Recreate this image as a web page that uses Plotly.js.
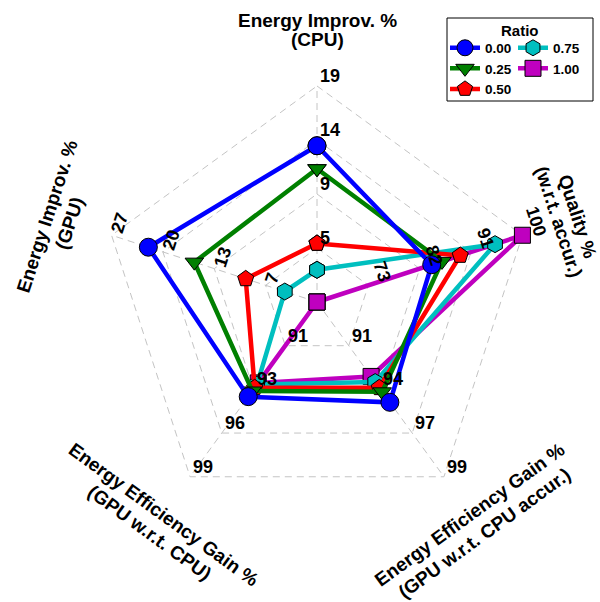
<!DOCTYPE html>
<html><head><meta charset="utf-8">
<script src="https://cdn.plot.ly/plotly-3.0.1.min.js"></script>
<style>html,body{margin:0;padding:0;background:#fff}#chart{width:600px;height:602px}</style>
</head><body><div id="chart"></div>
<script>
// ---- data ----
const axisTitlesLine1 = ['Energy Improv. %', 'Quality %', 'Energy Efficiency Gain %', 'Energy Efficiency Gain %', 'Energy Improv. %'];
const axisTitlesLine2 = ['(CPU)', '(w.r.t. accur.)', '(GPU w.r.t. CPU accur.)', '(GPU w.r.t. CPU)', '(GPU)'];
const axisMin = [0, 64, 88.5, 88, 0];
const axisMax = [18.8, 100, 99.3, 98.8, 26.8];
const ticksEnergyCPU = ['5', '9', '14', '19'];
const ticksQuality = ['73', '82', '91', '100'];
const ticksEffAccur = ['91', '94', '97', '99'];
const ticksEffCPU = ['91', '93', '96', '99'];
const ticksEnergyGPU = ['7', '13', '20', '27'];
const seriesNames = ['0.00', '0.25', '0.50', '0.75', '1.00'];
const ratio000 = [13.6, 84.1, 94.7, 93.85, 22.0];
const ratio025 = [11.6, 85.9, 94.05, 93.5, 16.0];
const ratio050 = [5.1, 89.1, 93.8, 93.3, 9.3];
const ratio075 = [2.8, 95.2, 93.45, 93.1, 4.2];
const ratio100 = [0.0, 100, 93.1, 93.0, 0.0];

// ---- styling / layout ----
const allTicks = [ticksEnergyCPU, ticksQuality, ticksEffAccur, ticksEffCPU, ticksEnergyGPU];
const allSeries = [ratio000, ratio025, ratio050, ratio075, ratio100];
const colors = ['#0000FF', '#008000', '#FF0000', '#00BFBF', '#BF00BF'];
const symbols = ['circle', 'triangle-down', 'pentagon', 'hexagon', 'square'];
const msizes = [18, 16, 17, 17, 16];
const legendRank = [1, 3, 5, 2, 4];
const legendId = ['legend', 'legend', 'legend', 'legend2', 'legend2'];
const angles = [90, 18, -54, -126, 162];
const CX = 317, CY = 302, R = 216;
const FONT = 'Liberation Sans, Arial, Helvetica, sans-serif';
const X = px => px - CX;
const Y = py => CY - py;
const rad = a => a * Math.PI / 180;

const traces = [];
// grid
const gridStyle = {color: '#c4c4c4', width: 1, dash: '7px,5px'};
for (let k = 1; k <= 4; k++) {
  const xs = [], ys = [];
  for (let i = 0; i <= 5; i++) {
    const a = rad(angles[i % 5]);
    xs.push(R * k / 4 * Math.cos(a)); ys.push(R * k / 4 * Math.sin(a));
  }
  traces.push({x: xs, y: ys, mode: 'lines', line: gridStyle, hoverinfo: 'skip', showlegend: false});
}
for (let i = 0; i < 5; i++) {
  const a = rad(angles[i]);
  traces.push({x: [0, R * Math.cos(a)], y: [0, R * Math.sin(a)], mode: 'lines', line: gridStyle, hoverinfo: 'skip', showlegend: false});
}
// series (drawn from last to first so 0.00 is on top)
for (let s = allSeries.length - 1; s >= 0; s--) {
  const vals = allSeries[s];
  const xs = [], ys = [];
  for (let i = 0; i <= 5; i++) {
    const j = i % 5;
    const f = (vals[j] - axisMin[j]) / (axisMax[j] - axisMin[j]);
    const a = rad(angles[j]);
    xs.push(R * f * Math.cos(a)); ys.push(R * f * Math.sin(a));
  }
  traces.push({
    x: xs, y: ys, mode: 'lines+markers', name: seriesNames[s],
    legend: legendId[s], legendrank: legendRank[s],
    line: {color: colors[s], width: 4.5},
    marker: {symbol: symbols[s], size: msizes[s], color: colors[s], line: {color: '#000', width: 1}},
    cliponaxis: false
  });
}

const annotations = [];
const tickFont = {family: FONT, size: 18, color: '#000', weight: 'bold'};
for (let i = 0; i < 5; i++) {
  const a = rad(angles[i]);
  allTicks[i].forEach((t, k) => {
    const r = R * (k + 1) / 4;
    const vx = CX + r * Math.cos(a), vy = CY - r * Math.sin(a);
    if (i === 0 || i === 2 || i === 3) {
      annotations.push({x: X(vx + 1), y: Y(vy - 10), text: t, showarrow: false, xanchor: 'left', yanchor: 'middle', font: tickFont});
    } else if (i === 4) {
      const hw = 5 * t.length;
      const b = [0.309, -0.951], u = [-0.951, -0.309];
      const cx = vx + (4 + hw) * b[0] - 4 * u[0], cy = vy + (4 + hw) * b[1] - 4 * u[1];
      annotations.push({x: X(cx), y: Y(cy), text: t, showarrow: false, textangle: -72, xanchor: 'center', yanchor: 'middle', font: tickFont});
    } else {
      const b = [0.309, 0.951], u = [0.951, -0.309];
      const cx = vx - 8.5 * b[0] + 17.5 * u[0], cy = vy - 8.5 * b[1] + 17.5 * u[1];
      annotations.push({x: X(cx), y: Y(cy), text: t, showarrow: false, textangle: 72, xanchor: 'center', yanchor: 'middle', font: tickFont});
    }
  });
}
// axis titles (line centres in page pixels)
const titleFont = {family: FONT, size: 19, color: '#000', weight: 'bold'};
const titlePos = [
  [[317, 20.7], [317, 39.2], 0],
  [[578, 216], [559, 221], 72],
  [[469.8, 514.5], [484, 533.5], -36],
  [[163.4, 514.7], [149.2, 532.8], 36],
  [[46.7, 216], [69, 223], -72]
];
titlePos.forEach((p, i) => {
  annotations.push({x: X(p[0][0]), y: Y(p[0][1]), text: axisTitlesLine1[i], showarrow: false, textangle: p[2], xanchor: 'center', yanchor: 'middle', font: titleFont});
  annotations.push({x: X(p[1][0]), y: Y(p[1][1]), text: axisTitlesLine2[i], showarrow: false, textangle: p[2], xanchor: 'center', yanchor: 'middle', font: titleFont});
});
const legFont = {family: FONT, size: 13.5, color: '#000', weight: 'bold'};
annotations.push({x: X(520), y: Y(30), text: 'Ratio', showarrow: false, xanchor: 'center', yanchor: 'middle', font: {family: FONT, size: 15, color: '#000', weight: 'bold'}});

const layout = {
  width: 600, height: 602,
  margin: {l: 0, r: 0, t: 0, b: 0},
  paper_bgcolor: '#fff', plot_bgcolor: '#fff',
  xaxis: {range: [-CX, 600 - CX], visible: false, fixedrange: true},
  yaxis: {range: [CY - 602, CY], visible: false, fixedrange: true},
  showlegend: true,
  legend: {x: 445 / 600, y: 1 - 32.5 / 602, xanchor: 'left', yanchor: 'top', orientation: 'v', bgcolor: 'rgba(0,0,0,0)', borderwidth: 0, font: legFont, traceorder: 'normal'},
  legend2: {x: 513 / 600, y: 1 - 32.5 / 602, xanchor: 'left', yanchor: 'top', orientation: 'v', bgcolor: 'rgba(0,0,0,0)', borderwidth: 0, font: legFont, traceorder: 'normal'},
  shapes: [{type: 'rect', xref: 'x', yref: 'y', x0: X(447), x1: X(593), y0: Y(18), y1: Y(101), line: {color: '#000', width: 1}, fillcolor: '#fff', layer: 'below'}],
  annotations: annotations
};
Plotly.newPlot('chart', traces, layout, {displayModeBar: false, staticPlot: true});
</script>
</body></html>
